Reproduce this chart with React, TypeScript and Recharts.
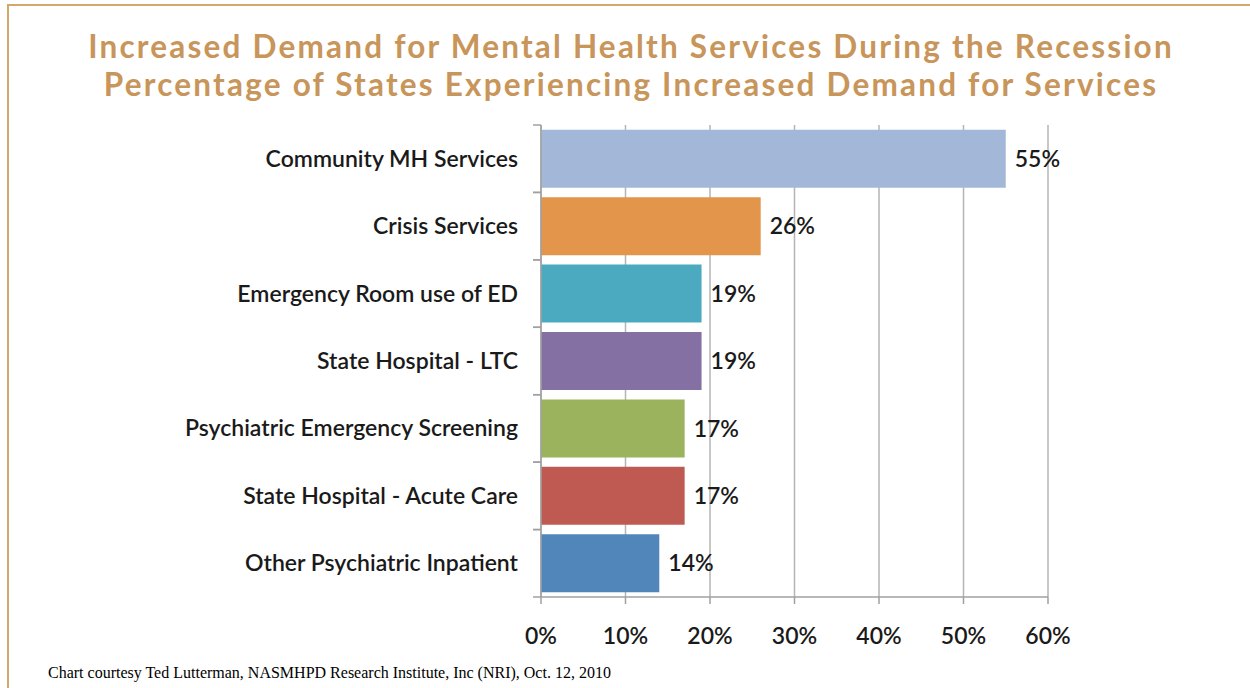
import { Bar, BarChart, CartesianGrid, Cell, LabelList, XAxis, YAxis } from "recharts"

const services = [
  "Community MH Services",
  "Crisis Services",
  "Emergency Room use of ED",
  "State Hospital - LTC",
  "Psychiatric Emergency Screening",
  "State Hospital - Acute Care",
  "Other Psychiatric Inpatient",
]

const percentIncrease = [55, 26, 19, 19, 17, 17, 14]

const barColors = ["#a3b8d9", "#e3954b", "#4baabf", "#8470a3", "#9bb35c", "#be5a52", "#5186ba"]

const xTicks = [0, 10, 20, 30, 40, 50, 60]

const data = services.map((name, i) => ({ name, value: percentIncrease[i] }))

const tan = "#c8955a"
const labelFont = "Lato, 'Open Sans', sans-serif"
const labelStyle = { fill: "#1a1a1a", fontSize: 23, fontFamily: labelFont, fontWeight: 600 }

// category label plus the small tick marks between bands, like the Excel original
function CategoryTick(props: any) {
  const { x, y, payload } = props
  const half = payload && payload.offset ? payload.offset : 33.7
  const ax = x + 23
  return (
    <g>
      <line x1={ax - 8} x2={ax} y1={y - half} y2={y - half} stroke="#a0a0a0" strokeWidth={1.5} />
      <line x1={ax - 8} x2={ax} y1={y + half} y2={y + half} stroke="#a0a0a0" strokeWidth={1.5} />
      <text x={x} y={y} dy="0.35em" textAnchor="end" {...labelStyle}>
        {payload.value}
      </text>
    </g>
  )
}

const titleStyle = {
  position: "absolute" as const,
  left: 0,
  width: 1262,
  textAlign: "center" as const,
  color: tan,
  fontFamily: "Lato, 'Open Sans', sans-serif",
  fontSize: 31.5,
  fontWeight: 700,
  letterSpacing: 2.2,
  lineHeight: "32px",
  whiteSpace: "nowrap" as const,
}

export default function App() {
  return (
    <div style={{ position: "absolute", left: 0, top: 0, width: 1250, height: 688, background: "#fff", overflow: "hidden" }}>
      <div
        style={{
          position: "absolute",
          left: 7,
          top: 4,
          width: 1250,
          height: 700,
          borderTop: "2px solid #d4a86a",
          borderLeft: "2px solid #d4a86a",
        }}
      />
      <div style={{ ...titleStyle, top: 30 }}>Increased Demand for Mental Health Services During the Recession</div>
      <div style={{ ...titleStyle, top: 68 }}>Percentage of States Experiencing Increased Demand for Services</div>
      <BarChart
        width={1250}
        height={688}
        data={data}
        layout="vertical"
        barCategoryGap="7%"
        margin={{ top: 125, right: 202, bottom: 61, left: 8 }}
      >
        <CartesianGrid horizontal={false} stroke="#b5b5b5" strokeWidth={1.5} />
        <XAxis
          type="number"
          domain={[0, 60]}
          ticks={xTicks}
          tickFormatter={(v) => `${v}%`}
          stroke="#a0a0a0"
          strokeWidth={1.5}
          tickSize={7}
          tickMargin={24}
          tick={labelStyle}
        />
        <YAxis
          type="category"
          dataKey="name"
          width={533}
          stroke="#a0a0a0"
          strokeWidth={1.5}
          tickLine={false}
          tickMargin={17}
          tick={<CategoryTick />}
        />
        <Bar dataKey="value" isAnimationActive={false}>
          {data.map((d, i) => (
            <Cell key={d.name} fill={barColors[i]} />
          ))}
          <LabelList
            dataKey="value"
            position="right"
            offset={9}
            formatter={(v: number) => `${v}%`}
            style={labelStyle}
          />
        </Bar>
      </BarChart>
      <div
        style={{
          position: "absolute",
          left: 48,
          top: 664,
          fontFamily: "'Liberation Serif', 'Times New Roman', serif",
          fontSize: 16,
          color: "#000",
          whiteSpace: "nowrap",
        }}
      >
        Chart courtesy Ted Lutterman, NASMHPD Research Institute, Inc (NRI), Oct. 12, 2010
      </div>
    </div>
  )
}
